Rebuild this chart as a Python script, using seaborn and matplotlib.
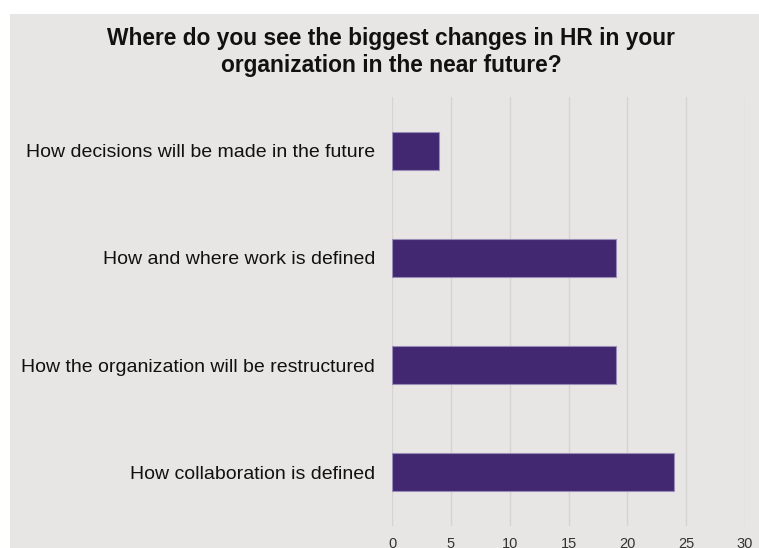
import matplotlib
matplotlib.use("Agg")
import matplotlib.pyplot as plt
import seaborn as sns
import pandas as pd
from matplotlib.patches import Rectangle

# Data
categories = [
    "How decisions will be made in the future",
    "How and where work is defined",
    "How the organization will be restructured",
    "How collaboration is defined",
]
counts = [4, 19, 19, 24]
x_ticks = [0, 5, 10, 15, 20, 25, 30]

df = pd.DataFrame({"category": categories, "count": counts})

sns.set_style("white")
plt.rcParams["font.family"] = ["Liberation Sans", "DejaVu Sans"]

bg = "#e8e6e4"
W, H = 759, 548
fig = plt.figure(figsize=(W / 100, H / 100), dpi=100, facecolor=bg)

# white margin strips on the top and left
fig.patches.append(Rectangle((0, 1 - 14 / H), 1, 14 / H,
                             transform=fig.transFigure, facecolor="white",
                             edgecolor="none"))
fig.patches.append(Rectangle((0, 0), 10 / W, 1,
                             transform=fig.transFigure, facecolor="white",
                             edgecolor="none"))

ax = fig.add_axes([392 / W, 1 - 526 / H, (745 - 392) / W, (526 - 97) / H])
ax.set_facecolor(bg)

sns.barplot(data=df, x="count", y="category", ax=ax, color="#422870",
            width=0.355, edgecolor="#9a8cb8", linewidth=0.8, saturation=1,
            zorder=3)

ax.set_xlim(0, 30)
ax.set_xticks(x_ticks)
ax.xaxis.grid(True, color="#d6d4d2", linewidth=1, zorder=0)
ax.set_axisbelow(True)
for s in ax.spines.values():
    s.set_visible(False)
ax.tick_params(axis="both", length=0)
ax.tick_params(axis="y", labelsize=14, pad=12, labelcolor="#111111")
ax.tick_params(axis="x", labelsize=10.5, pad=8, labelcolor="#333333")
ax.set_xlabel("")
ax.set_ylabel("")

fig.text(391 / W, 1 - 52 / H,
         "Where do you see the biggest changes in HR in your\norganization in the near future?",
         ha="center", va="center", fontsize=16.4, fontweight="bold",
         linespacing=1.25, color="#111111")

fig.savefig("out.png", dpi=100, facecolor=bg)
